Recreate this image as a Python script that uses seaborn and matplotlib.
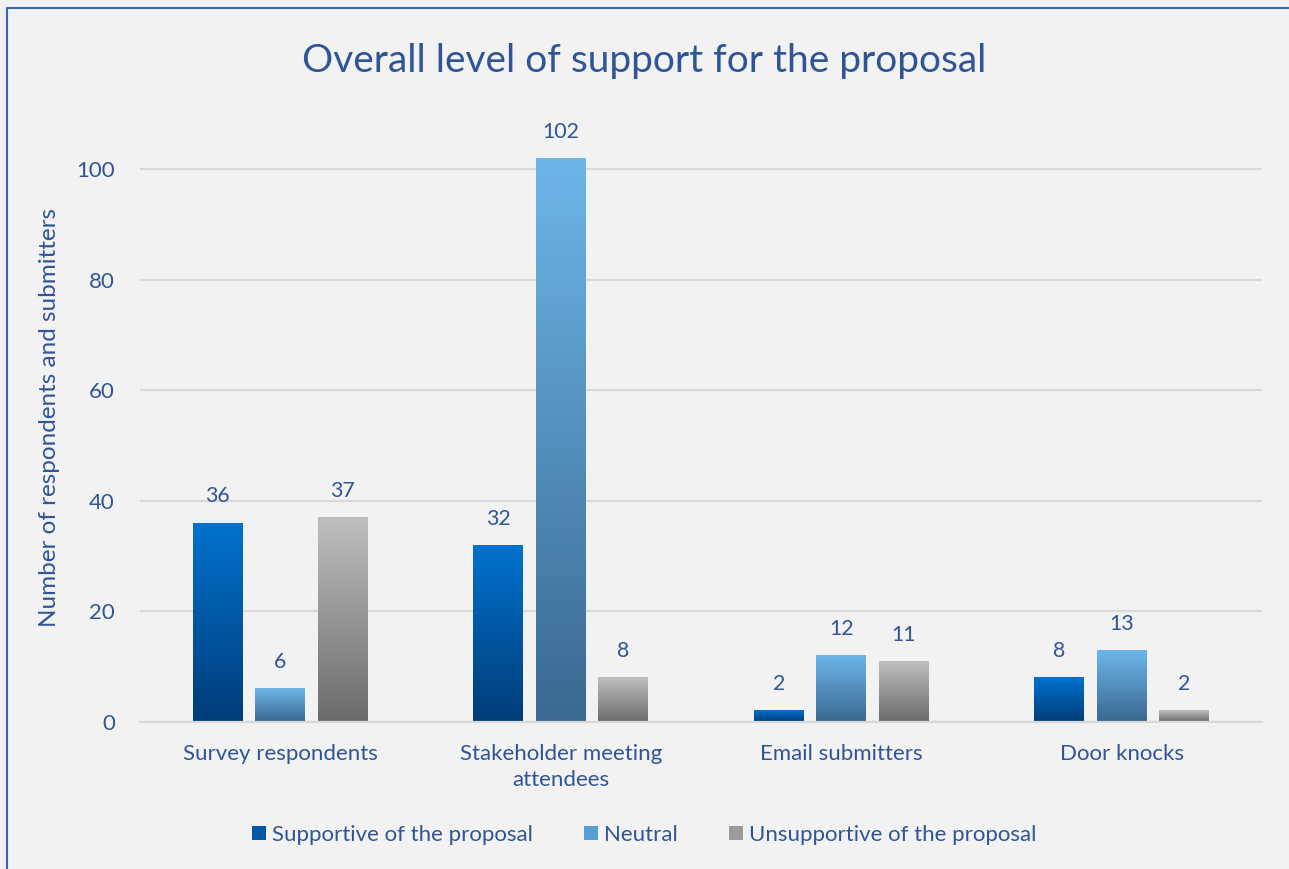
import numpy as np
import pandas as pd
import seaborn as sns
import matplotlib.pyplot as plt
from matplotlib.colors import LinearSegmentedColormap
from matplotlib.patches import Patch
from matplotlib.lines import Line2D

categories = ['Survey respondents', 'Stakeholder meeting\nattendees', 'Email submitters', 'Door knocks']
series = ['Supportive of the proposal', 'Neutral', 'Unsupportive of the proposal']
supportive = [36, 32, 2, 8]
neutral = [6, 102, 12, 13]
unsupportive = [37, 8, 11, 2]

# top / bottom colour of each gradient fill
grad_top = ['#0072CE', '#6DB6EA', '#BFBFBF']
grad_bot = ['#003C78', '#3A6890', '#6B6B6B']

txt = '#2F5597'
bg = '#F2F2F2'

sns.set_theme(style='white')
plt.rcParams['font.family'] = ['Lato', 'DejaVu Sans']

df = pd.DataFrame({
    'group': categories * 3,
    'series': [s for s in series for _ in categories],
    'value': supportive + neutral + unsupportive,
})

fig = plt.figure(figsize=(12.89, 8.69), dpi=100, facecolor=bg)
ax = fig.add_axes([0.1086, 0.1692, 0.8706, 0.6996])
ax.set_facecolor(bg)

sns.barplot(data=df, x='group', y='value', hue='series', hue_order=series,
            order=categories, width=0.668, gap=0.2, ax=ax, legend=False,
            errorbar=None)

# gradient fill for every bar
grad = np.linspace(1, 0, 256).reshape(-1, 1)
for i, cont in enumerate(ax.containers):
    cmap = LinearSegmentedColormap.from_list('g%d' % i, [grad_bot[i], grad_top[i]])
    for bar in cont:
        x0, w, h = bar.get_x(), bar.get_width(), bar.get_height()
        bar.set_facecolor('none')
        bar.set_edgecolor('none')
        ax.imshow(grad, cmap=cmap, extent=[x0, x0 + w, 0, h], aspect='auto',
                  vmin=0, vmax=1, zorder=2)
        ax.text(x0 + w / 2, h + 3.0, '%d' % h, ha='center', va='bottom',
                color=txt, fontsize=15.3)
ax.set_xlim(-0.5, 3.5)
ax.set_ylim(0, 110)

ax.set_yticks(range(0, 101, 20))
ax.yaxis.grid(True, color='#D9D9D9', linewidth=1.6)
ax.set_axisbelow(True)
for s in ['top', 'right', 'left']:
    ax.spines[s].set_visible(False)
ax.spines['bottom'].set_color('#D9D9D9')
ax.spines['bottom'].set_linewidth(1.6)
ax.tick_params(axis='both', length=0, labelsize=16, labelcolor=txt)
ax.tick_params(axis='x', pad=16)
ax.tick_params(axis='y', pad=18)
for lab in ax.get_xticklabels():
    lab.set_linespacing(1.36)
ax.set_xlabel('')
ax.set_ylabel('Number of respondents and submitters', fontsize=17.5, color=txt, labelpad=12)

fig.text(0.5, 0.930, 'Overall level of support for the proposal', ha='center',
         va='center', fontsize=28, color=txt)

handles = [Patch(facecolor=c, edgecolor='none') for c in ['#0058A6', '#58A0D4', '#9A9A9A']]
fig.legend(handles, series, loc='center', bbox_to_anchor=(0.5, 0.039), ncol=3,
           frameon=False, fontsize=16, labelcolor=txt, handlelength=0.6,
           handleheight=0.6, handletextpad=0.3, columnspacing=2.3)

# chart frame (left and top edges visible)
fig.add_artist(Line2D([0.0058, 0.0058], [0, 0.9905], transform=fig.transFigure,
                      color='#3A66AE', linewidth=1.5))
fig.add_artist(Line2D([0.0058, 1.0], [0.9905, 0.9905], transform=fig.transFigure,
                      color='#3A66AE', linewidth=1.5))

fig.savefig('out.png', dpi=100, facecolor=bg)
